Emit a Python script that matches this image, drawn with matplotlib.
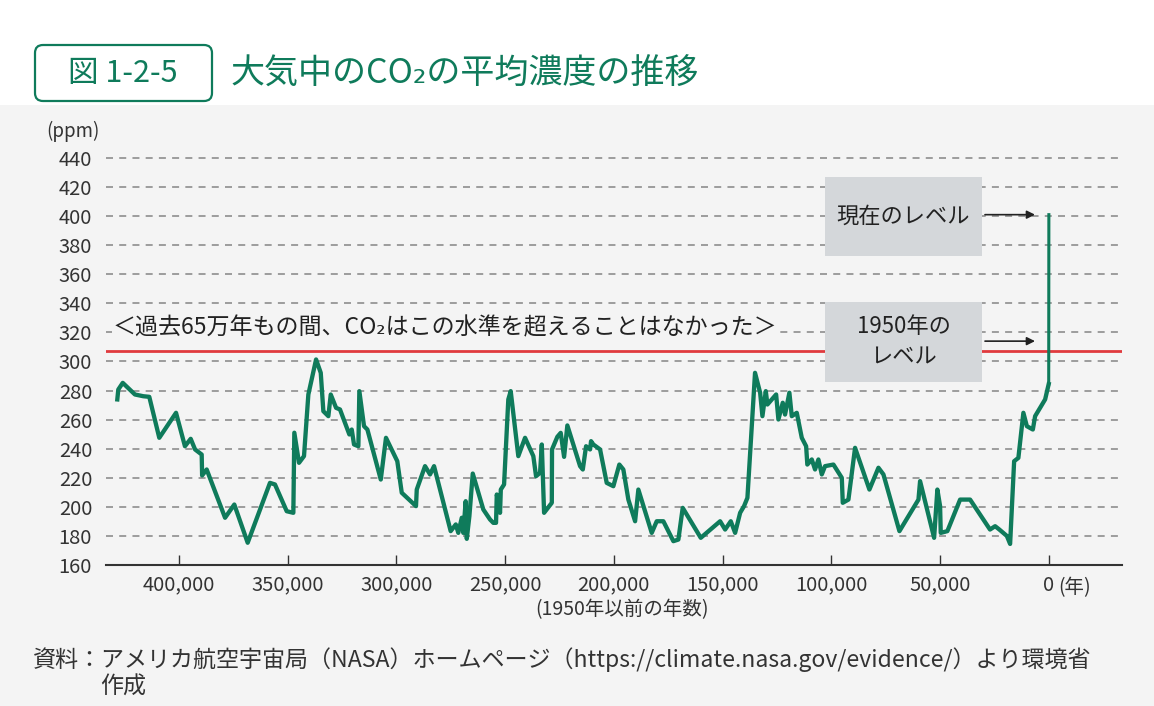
import matplotlib.pyplot as plt
from matplotlib.patches import FancyBboxPatch, Rectangle

plt.rcParams['font.family'] = ['Noto Sans CJK JP', 'DejaVu Sans']

# years before 1950 and CO2 concentration (ppm)
years = [428300, 427850, 425800, 420200, 416350, 413600, 409000, 401300, 397200, 394550,
         392550, 389500, 389300, 387200, 378750, 374500, 368350, 358100, 355800, 350400,
         347350, 346900, 344750, 342450, 340450, 336900, 334750, 333550, 331250, 330150,
         327700, 325900, 321600, 320500, 319450, 317450, 317000, 314850, 313300, 307150,
         304750, 299550, 297500, 290950, 290600, 286800, 284500, 282650, 275000, 272650,
         271500, 269900, 269200, 268100, 267600, 266400, 264850, 260000, 256900, 255400,
         254150, 253800, 252300, 251950, 250450, 248500, 247400, 243900, 240800, 237000,
         235750, 233900, 233100, 232050, 228500, 228400, 225950, 224400, 222850, 221350,
         215500, 214250, 212750, 210900, 210450, 209400, 206300, 203250, 200200, 197450,
         195600, 193300, 190200, 188700, 182550, 180250, 177200, 172600, 170300, 168300,
         160000, 151100, 148800, 146200, 144200, 141900, 140100, 138550, 135050, 132700,
         131650, 130100, 129350, 127350, 125350, 124300, 122300, 121250, 119250, 118150,
         115850, 113550, 111550, 111000, 108950, 107450, 105900, 104350, 102850, 99000,
         95150, 94700, 92100, 89050, 82450, 78300, 76000, 68650, 59900, 59150,
         52700, 51200, 49950, 49650, 46600, 40750, 36150, 27000, 24650, 22700,
         19250, 17750, 15900, 13950, 11650, 10050, 7300, 6250, 3950, 1650,
         0, -70]
ppm = [273.9, 280.7, 285.3, 277.3, 276.1, 275.7, 247.5, 264.7, 241.7, 246.8,
       239.5, 236.0, 221.6, 225.7, 192.5, 201.6, 175.3, 216.5, 215.4, 197.0,
       195.9, 251.0, 230.3, 234.9, 277.3, 301.4, 292.2, 265.8, 262.4, 277.3,
       268.1, 267.0, 249.8, 253.2, 242.9, 241.7, 279.6, 255.5, 253.2, 218.8,
       247.5, 231.4, 209.7, 200.5, 211.9, 228.0, 222.3, 228.0, 183.3, 187.9,
       182.1, 192.5, 182.1, 203.9, 178.0, 193.6, 222.9, 198.2, 191.3, 189.0,
       189.0, 208.5, 195.9, 211.9, 215.4, 273.9, 279.6, 234.9, 247.5, 234.9,
       221.1, 223.4, 242.9, 195.9, 202.8, 239.5, 248.2, 250.9, 234.4, 256.0,
       228.0, 225.7, 241.7, 239.5, 245.2, 242.9, 239.5, 216.5, 214.2, 229.1,
       225.7, 205.0, 190.1, 211.9, 182.1, 190.1, 190.1, 176.4, 177.5, 199.3,
       178.7, 190.1, 184.4, 190.1, 182.1, 195.9, 200.5, 206.2, 292.2, 278.5,
       262.4, 279.6, 270.4, 273.9, 277.3, 260.1, 271.6, 263.5, 278.5, 262.4,
       264.7, 247.5, 241.7, 229.1, 232.6, 225.7, 232.6, 222.3, 228.0, 229.1,
       220.0, 202.8, 205.0, 240.6, 211.9, 226.9, 222.3, 183.3, 205.0, 217.7,
       178.7, 211.9, 200.5, 182.1, 183.3, 205.0, 205.0, 184.4, 186.7, 184.4,
       180.0, 174.5, 231.4, 233.7, 264.7, 255.5, 253.2, 262.4, 268.1, 273.9,
       284.5, 401.0]

level_1950 = 307.4
level_now = 401.0
level_1950_arrow = 314.0

xtick_vals = [400000, 350000, 300000, 250000, 200000, 150000, 100000, 50000, 0]
xtick_labels = ['400,000', '350,000', '300,000', '250,000', '200,000',
                '150,000', '100,000', '50,000', '0']
ytick_vals = list(range(160, 441, 20))

GREEN = '#0f7b5b'
TEXT = '#333333'
BG = '#f4f4f4'

W, H = 1154, 706


def px(x, y):
    """pixel position (from top-left) -> figure fraction"""
    return x / W, 1 - y / H


fig = plt.figure(figsize=(W / 100, H / 100), dpi=100)
fig.patch.set_facecolor('white')
fig.add_artist(Rectangle((0, 0), 1, 1 - 105 / H, transform=fig.transFigure,
                         facecolor=BG, edgecolor='none', zorder=-2))

# title
fig.add_artist(FancyBboxPatch((35 / 100, (H - 101) / 100), 177 / 100, 56 / 100,
                              boxstyle='round,pad=0,rounding_size=0.08',
                              transform=fig.dpi_scale_trans, facecolor='white',
                              edgecolor=GREEN, lw=1.6, zorder=1))
fig.text(*px(123, 74), '図 1-2-5', color=GREEN, fontsize=22, ha='center', va='center',
         zorder=2)
fig.text(*px(231, 74), '大気中のCO₂の平均濃度の推移', color=GREEN, fontsize=24.5,
         ha='left', va='center')

# axes
x0, x1 = 106, 1122
y_bot, y_top = 565, 147.8
ax = fig.add_axes([x0 / W, 1 - y_bot / H, (x1 - x0) / W, (y_bot - y_top) / H])
ax.set_facecolor('none')
ax.set_xlim(433500, -33700)
ax.set_ylim(160, 447)

for v in ytick_vals[1:]:
    ax.axhline(v, color='#9c9c9c', lw=1.4, ls=(0, (3.6, 3.2)), zorder=1)
ax.axhline(level_1950, color='#e03a3e', lw=2, zorder=3)

ax.plot(years[:-1], ppm[:-1], color=GREEN, lw=3.1, zorder=4, solid_joinstyle='round')
ax.plot(years[-2:], ppm[-2:], color=GREEN, lw=2.2, zorder=4)

for s in ['left', 'right', 'top']:
    ax.spines[s].set_visible(False)
ax.spines['bottom'].set_color(TEXT)
ax.spines['bottom'].set_linewidth(1.5)

ax.set_yticks(ytick_vals)
ax.set_xticks(xtick_vals, xtick_labels)
ax.tick_params(axis='y', length=0, pad=10, labelsize=14.5, labelcolor=TEXT)
ax.tick_params(axis='x', direction='in', length=7, width=1, color=TEXT,
               pad=7, labelsize=14.5, labelcolor=TEXT)

fig.text(*px(46, 131), '(ppm)', fontsize=13.5, color=TEXT, ha='left', va='center')
fig.text(*px(1058, 588), '(年)', fontsize=14, color=TEXT, ha='left', va='center')
fig.text(*px(622, 610), '(1950年以前の年数)', fontsize=14, color=TEXT, ha='center', va='center')

# annotations
fig.text(*px(113, 328), '＜過去65万年もの間、CO₂はこの水準を超えることはなかった＞',
         fontsize=16.6, color='#222222', ha='left', va='center',
         bbox=dict(facecolor=BG, edgecolor='none', pad=1))

for (bx, by, bw, bh), label, ay in [((825, 177, 157, 79), '現在のレベル', level_now),
                                     ((825, 302, 157, 80), '1950年の\nレベル', level_1950_arrow)]:
    fig.add_artist(Rectangle(((bx) / 100, (H - by - bh) / 100), bw / 100, bh / 100,
                             transform=fig.dpi_scale_trans, facecolor='#d4d7da',
                             edgecolor='none', zorder=5))
    fig.text(*px(bx + bw / 2, by + bh / 2), label, fontsize=16, color='#222222',
             ha='center', va='center', linespacing=1.4, zorder=6)
    ax.annotate('', xy=(6300, ay), xytext=(29300, ay),
                arrowprops=dict(arrowstyle='-|>', color='#222222', lw=1.2,
                                mutation_scale=12, shrinkA=0, shrinkB=0))

# source note
fig.text(*px(33, 660), '資料：アメリカ航空宇宙局（NASA）ホームページ（https://climate.nasa.gov/evidence/）より環境省',
         fontsize=16.6, color=TEXT, ha='left', va='center')
fig.text(*px(100, 687), '作成', fontsize=16.6, color=TEXT, ha='left', va='center')

fig.savefig('out.png', dpi=100, facecolor=fig.get_facecolor())
